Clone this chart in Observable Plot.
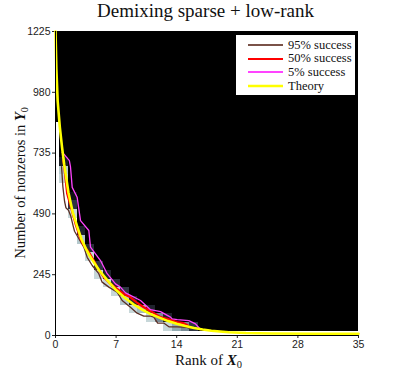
<!DOCTYPE html>
<html><head><meta charset="utf-8">
<script src="https://cdn.jsdelivr.net/npm/d3@7"></script>
<script src="https://cdn.jsdelivr.net/npm/@observablehq/plot@0.6"></script>
<style>
html,body{margin:0;padding:0;background:#fff;}
body{width:399px;height:379px;position:relative;overflow:hidden;}
#chart{position:absolute;left:0;top:0;}
.title{position:absolute;left:0;width:411px;top:0px;text-align:center;font-family:"Liberation Serif",serif;font-size:19px;color:#111;white-space:nowrap;}
.xlab{position:absolute;left:57px;width:303px;top:352px;line-height:16px;text-align:center;font-family:"Liberation Serif",serif;font-size:15px;color:#111;white-space:nowrap;}
.ylab{position:absolute;left:20px;top:183px;line-height:16px;transform:translate(-50%,-50%) rotate(-90deg);font-family:"Liberation Serif",serif;font-size:14.5px;color:#111;white-space:nowrap;}
sub{font-size:0.7em;vertical-align:-0.25em;line-height:0;}
.legend{position:absolute;left:235px;top:34px;width:119px;height:60px;background:#fff;border:1px solid #000;color:#111;}
.legend .row{position:absolute;left:0;height:14px;display:flex;align-items:center;}
.legend .row span{font-family:"Liberation Serif",serif;font-size:12.5px;}
.legend .sw{width:35px;margin-left:12px;margin-right:5px;}
</style>
</head><body>
<div id="chart"></div>
<div class="title">Demixing sparse + low-rank</div>
<div class="xlab">Rank of <b><i>X</i></b><sub>0</sub></div>
<div class="ylab">Number of nonzeros in <b><i>Y</i></b><sub>0</sub></div>
<div class="legend" id="legend"></div>
<script>
// ---- data ----
const rankTicks = [0, 7, 14, 21, 28, 35];
const nzTicks = [0, 245, 490, 735, 980, 1225];
const rankSamples = [0,1,2,3,4,5,6,7,8,9,10,11,12,13,14,15,16,17,18,19,20,21,22,23,24,25,26,27,28,29,30,31,32,33,34,35];
const nzSamples = [0,35,70,105,140,175,210,245,280,315,350,385,420,455,490,525,560,595,630,665,700,735,770,805,840,875,910,945,980,1015,1050,1085,1120,1155,1190,1225];
// highest fully-successful row in each rank column
const whiteTopRow = [24,17,13,10,8,6,5,4,3,2,2,1,1,0,0,0,0,0,0,0,0,0,0,0,0,0,0,0,0,0,0,0,0,0,0,0];
// success probabilities of the transition cells above it
const transitionLevels = [[],[0.85,0.8,0.15],[0.85,0.3,0.1],[0.8,0.2],[0.85,0.25],[0.85,0.3],[0.85,0.2],[0.85,0.25],[0.8,0.3],[0.85,0.2],[0.75],[0.85,0.2],[0.6],[0.85,0.2],[0.7],[0.6],[0.3],[],[],[],[],[],[],[],[],[],[],[],[],[],[],[],[],[],[],[]];

const theoryRank = [0,0.1,0.25,0.5,0.75,1,1.5,2,2.5,3,3.5,4,5,6,7,8,9,10,11,12,13,14,15,16,17,18,20,22,25,30,35];
const theoryNz   = [1225,1075,945,840,760,690,575,495,440,388,350,318,265,222,183,152,126,104,86,72,58,47,38,30,24,19,13,10,8,7,7];

const p95Rank = [0.7,0.85,1.05,1.2,1.5,1.75,2.05,2.2,2.7,3.27,3.66,4.24,5.0,5.39,6.16,7.12,7.7,8.66,9.43,10.2,11.0,11.35,11.8,12.5,13.1,14.06,15.2,15.6];
const p95Nz   = [680,600,540,515,505,483,440,420,390,356,315,282,249,215,195,175,141,114,90,78,78,74,50,50,35,35,33,28];

const p50Rank = [0.9,1.0,1.35,1.73,2.0,2.31,2.69,3.0,3.27,3.85,4.43,4.81,5.58,6.3,7.12,8.0,8.66,9.5,10.2,11.0,12.13,13.0,14.06,14.8,15.3];
const p50Nz   = [705,685,571,524,490,450,410,380,363,336,302,275,235,210,188,165,154,130,114,98,74,66,54,50,40];

const p5Rank = [0.77,1.0,1.6,1.73,1.93,2.5,2.89,3.85,4.04,5.2,5.97,6.93,7.5,8.09,8.66,9.43,9.82,10.97,12.13,13.28,13.48,14.06,15.4,16.17,16.75];
const p5Nz   = [738,730,705,680,597,557,463,423,356,302,249,208,195,172,162,148,141,104,96,74,67,64,60,47,24];

const seriesNames = ["95% success","50% success","5% success","Theory"];
const seriesColors = ["#5a2e24","#ff0000","#ff44ff","#ffff00"];
const seriesWidths = [1.3, 2.2, 1.3, 2.6];

// ---- build tables ----
const cells = [];
rankSamples.forEach((r, i) => {
  nzSamples.forEach((n, k) => {
    const w = whiteTopRow[i], t = transitionLevels[i];
    const p = k <= w ? 1 : (k - w - 1 < t.length ? t[k - w - 1] : 0);
    cells.push({x1: Math.max(0, r - 0.5), x2: Math.min(35, r + 0.5), y1: Math.max(0, n - 17.5), y2: Math.min(1225, n + 17.5), p});
  });
});
const toPts = (rs, ns) => rs.map((r, i) => ({r, n: ns[i]}));
const curves = [toPts(p95Rank, p95Nz), toPts(p50Rank, p50Nz), toPts(p5Rank, p5Nz), toPts(theoryRank, theoryNz)];

const chart = Plot.plot({
  width: 399, height: 379,
  marginTop: 31, marginLeft: 55, marginRight: 41, marginBottom: 44,
  style: {fontFamily: "'Liberation Sans', Arial, sans-serif", fontSize: "10.5px", color: "#222", background: "transparent"},
  x: {domain: [0, 35], ticks: rankTicks, tickSize: 3, label: null, tickPadding: 2, tickFormat: d => String(d)},
  y: {domain: [0, 1225], ticks: nzTicks, tickSize: 3, label: null, tickPadding: 2, tickFormat: d => String(d)},
  color: {type: "linear", domain: [0, 0.375, 0.75, 1], range: ["#000000", "#3a4254", "#a2bcc0", "#ffffff"]},
  marks: [
    Plot.rect(cells, {x1: "x1", x2: "x2", y1: "y1", y2: "y2", fill: "p", shapeRendering: "crispEdges"}),
    ...curves.map((c, i) => Plot.line(c, {x: "r", y: "n", stroke: seriesColors[i], strokeWidth: seriesWidths[i], curve: "linear"})),
    Plot.ruleX([0], {stroke: "#000", strokeWidth: 1}),
    Plot.ruleY([0], {stroke: "#000", strokeWidth: 1})
  ]
});
document.getElementById("chart").appendChild(chart);

// legend
const lg = document.getElementById("legend");
seriesNames.forEach((name, i) => {
  const row = document.createElement("div");
  row.className = "row";
  row.style.top = (3 + i * 13.7) + "px";
  row.innerHTML = `<svg class="sw" width="35" height="4"><line x1="0" x2="35" y1="2" y2="2" stroke="${i===0?'#7a5248':seriesColors[i]}" stroke-width="${i===3?2.5:1.8}"/></svg><span>${name}</span>`;
  lg.appendChild(row);
});
</script>
</body></html>
